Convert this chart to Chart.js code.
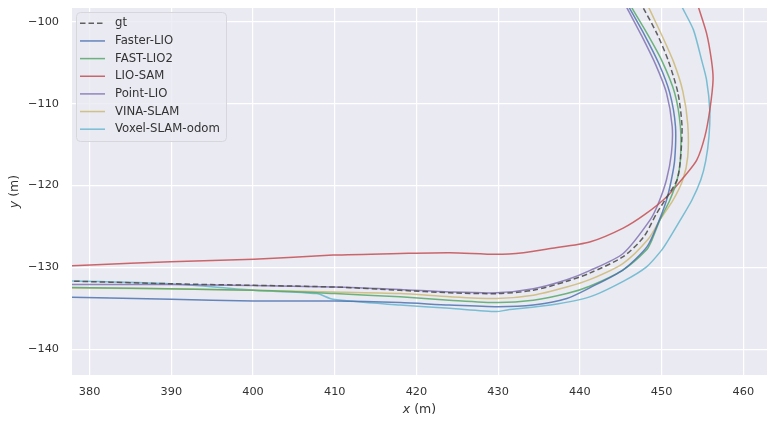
<!DOCTYPE html>
<html>
<head>
<meta charset="utf-8">
<script src="https://cdn.jsdelivr.net/npm/chart.js@4.4.1/dist/chart.umd.min.js"></script>
<style>
    html, body { margin: 0; padding: 0; background: #fff; }
    #wrap { width: 775px; height: 423px; }
</style>
</head>
<body>
<div id="wrap"><canvas id="trajChart" width="775" height="423"></canvas></div>
<script>
// tick labels
const xTicks = [380, 390, 400, 410, 420, 430, 440, 450, 460];
const yTicks = [-140, -130, -120, -110, -100];

// trajectories (m)
const gtX = [375, 390, 410, 418, 424, 430, 434.3, 438.4, 441.2, 445.3, 447.8, 449.4, 450.6, 451.9, 452.3, 452.5, 452.0, 450.8, 449.4, 447.8, 447.0];
const gtY = [-131.6, -132.0, -132.4, -132.8, -133.1, -133.2, -132.8, -131.7, -130.7, -128.7, -126.3, -123.4, -121.5, -119.3, -116.9, -112.8, -108.7, -104.7, -101.4, -98.4, -97.0];

const fasterLioX = [375, 390, 400, 410, 418, 424, 430, 434.3, 438.4, 441.2, 445.3, 448.2, 449.4, 450.6, 451.2, 451.6, 451.7, 451.0, 449.7, 447.9, 446.0, 445.4];
const fasterLioY = [-133.6, -133.9, -134.1, -134.1, -134.3, -134.6, -134.8, -134.6, -133.8, -132.5, -130.3, -127.5, -125.0, -121.8, -119.3, -116.9, -112.8, -108.7, -105.2, -101.6, -98.2, -97.0];

const fastLio2X = [375, 400, 410, 418, 424, 430, 434.3, 438.4, 441.2, 445.3, 448.2, 448.8, 449.8, 451.0, 451.9, 452.3, 452.3, 451.6, 450.0, 448.2, 446.3, 445.7];
const fastLio2Y = [-132.4, -132.8, -133.2, -133.6, -134.0, -134.3, -134.0, -133.2, -132.3, -130.3, -127.8, -126.7, -124.2, -121.8, -119.3, -116.9, -112.8, -108.7, -104.7, -101.4, -98.2, -97.0];

const lioSamX = [375, 380.1, 389.9, 400.1, 409.8, 418, 424.1, 429.8, 433.1, 436.4, 441.2, 445.3, 448.0, 450.6, 452.7, 454.3, 455.3, 455.9, 456.3, 456.1, 455.5, 454.5, 454.1];
const lioSamY = [-129.9, -129.7, -129.3, -129.0, -128.5, -128.3, -128.2, -128.4, -128.2, -127.7, -126.9, -125.2, -123.5, -121.4, -119.0, -116.9, -114.0, -110.8, -107.1, -104.7, -101.4, -98.2, -97.0];

const pointLioX = [375, 389.9, 409.8, 418, 424.1, 429.8, 434.3, 438.4, 441.2, 445.3, 448.6, 449.6, 450.6, 451.2, 451.3, 450.6, 449.3, 447.6, 445.7, 445.1];
const pointLioY = [-132.1, -132.1, -132.4, -132.7, -133.0, -133.1, -132.6, -131.5, -130.4, -128.3, -124.2, -122.2, -119.3, -116.1, -112.8, -108.7, -105.3, -101.8, -98.2, -97.0];

const vinaSlamX = [375, 389.9, 409.8, 418, 424.1, 429.8, 434.3, 438.4, 441.2, 445.3, 448.4, 449.8, 451.4, 452.6, 453.2, 453.2, 452.6, 451.5, 450.0, 448.4, 447.9];
const vinaSlamY = [-132.5, -132.6, -133.0, -133.2, -133.6, -133.8, -133.4, -132.4, -131.5, -129.5, -126.5, -124.2, -121.8, -119.3, -116.5, -112.5, -108.5, -105.0, -101.6, -98.2, -97.0];

const voxelSlamX = [375, 389.9, 400.1, 407.8, 409.8, 418, 424.1, 429.8, 431.1, 436.4, 441.2, 445.3, 448.2, 450.0, 450.8, 452.3, 453.7, 454.8, 455.4, 455.8, 455.9, 455.5, 454.9, 453.9, 452.5, 452.0];
const voxelSlamY = [-131.6, -132.0, -132.8, -133.2, -133.9, -134.6, -135.0, -135.4, -135.2, -134.6, -133.6, -131.7, -129.9, -127.9, -126.7, -124.2, -121.8, -119.3, -117.0, -114.0, -110.8, -107.1, -104.7, -101.0, -98.2, -97.0];

function pts(xs, ys) {
    return xs.map((x, i) => ({ x: x, y: ys[i] }));
}

function line(label, xs, ys, color, dash) {
    return {
        label: label,
        data: pts(xs, ys),
        showLine: true,
        borderColor: color,
        backgroundColor: color,
        borderWidth: 1.5,
        borderDash: dash || [],
        pointRadius: 0,
        tension: 0.25,
        fill: false
    };
}

const datasets = [
    line('gt', gtX, gtY, 'rgba(80, 80, 80, 0.9)', [5.5, 3]),
    line('Faster-LIO', fasterLioX, fasterLioY, 'rgba(76, 114, 176, 0.85)'),
    line('FAST-LIO2', fastLio2X, fastLio2Y, 'rgba(85, 168, 104, 0.85)'),
    line('LIO-SAM', lioSamX, lioSamY, 'rgba(196, 78, 82, 0.85)'),
    line('Point-LIO', pointLioX, pointLioY, 'rgba(129, 114, 179, 0.85)'),
    line('VINA-SLAM', vinaSlamX, vinaSlamY, 'rgba(204, 185, 116, 0.85)'),
    line('Voxel-SLAM-odom', voxelSlamX, voxelSlamY, 'rgba(100, 181, 205, 0.85)')
];

const FONT = "'DejaVu Sans', sans-serif";
const TEXT = '#333333';

// seaborn-like grey panel
const panelBg = {
    id: 'panelBg',
    beforeDraw(chart) {
        const a = chart.chartArea;
        const ctx = chart.ctx;
        ctx.save();
        ctx.fillStyle = '#EAEAF2';
        ctx.fillRect(a.left, a.top, a.right - a.left, a.bottom - a.top);
        ctx.restore();
    }
};

// legend box in upper left, drawn by hand
const legendBox = {
    id: 'legendBox',
    afterDraw(chart) {
        const ctx = chart.ctx;
        const x0 = 76.5, y0 = 12.5, w = 150, h = 129;
        ctx.save();
        ctx.beginPath();
        ctx.roundRect(x0, y0, w, h, 4);
        ctx.fillStyle = 'rgba(234, 234, 242, 0.8)';
        ctx.fill();
        ctx.strokeStyle = '#d6d6dc';
        ctx.lineWidth = 1;
        ctx.stroke();
        ctx.font = '11.7px ' + FONT;
        ctx.textBaseline = 'middle';
        chart.data.datasets.forEach((ds, i) => {
            const y = 23.3 + i * 17.65;
            ctx.beginPath();
            ctx.setLineDash(ds.borderDash);
            ctx.strokeStyle = ds.borderColor;
            ctx.lineWidth = 1.5;
            ctx.moveTo(80, y);
            ctx.lineTo(105, y);
            ctx.stroke();
            ctx.setLineDash([]);
            ctx.fillStyle = TEXT;
            ctx.fillText(ds.label, 115, y);
        });
        ctx.restore();
    }
};

// axis titles with italic variable
const axisTitles = {
    id: 'axisTitles',
    afterDraw(chart) {
        const ctx = chart.ctx;
        const a = chart.chartArea;
        ctx.save();
        ctx.fillStyle = TEXT;
        ctx.textBaseline = 'middle';
        ctx.textAlign = 'left';
        const drawTitle = (v, cx, cy) => {
            ctx.font = 'italic 12.5px ' + FONT;
            const w1 = ctx.measureText(v).width;
            ctx.font = '12.5px ' + FONT;
            const w2 = ctx.measureText(' (m)').width;
            const start = cx - (w1 + w2) / 2;
            ctx.font = 'italic 12.5px ' + FONT;
            ctx.fillText(v, start, cy);
            ctx.font = '12.5px ' + FONT;
            ctx.fillText(' (m)', start + w1, cy);
        };
        drawTitle('x', (a.left + a.right) / 2, 410);
        ctx.translate(15, (a.top + a.bottom) / 2);
        ctx.rotate(-Math.PI / 2);
        drawTitle('y', 0, 0);
        ctx.restore();
    }
};

new Chart(document.getElementById('trajChart'), {
    type: 'scatter',
    data: { datasets: datasets },
    options: {
        responsive: false,
        animation: false,
        layout: { padding: { left: 0, top: 8, right: 8, bottom: 0 } },
        plugins: {
            legend: { display: false },
            tooltip: { enabled: false }
        },
        scales: {
            x: {
                type: 'linear',
                min: 377.85,
                max: 462.9,
                afterFit: s => { s.height = 48; },
                afterBuildTicks: s => { s.ticks = xTicks.map(v => ({ value: v })); },
                border: { display: false },
                grid: { color: '#ffffff', lineWidth: 1.2, drawTicks: true, tickLength: 10, tickColor: 'rgba(0,0,0,0)' },
                ticks: { color: TEXT, font: { family: FONT, size: 11.3 }, padding: 0, includeBounds: false }
            },
            y: {
                type: 'linear',
                min: -143.14,
                max: -98.33,
                afterFit: s => { s.width = 72; },
                afterBuildTicks: s => { s.ticks = yTicks.map(v => ({ value: v })); },
                border: { display: false },
                grid: { color: '#ffffff', lineWidth: 1.2, drawTicks: true, tickLength: 13, tickColor: 'rgba(0,0,0,0)' },
                ticks: {
                    color: TEXT,
                    font: { family: FONT, size: 11.3 },
                    padding: 0,
                    includeBounds: false,
                    callback: v => String(v).replace('-', '\u2212')
                }
            }
        }
    },
    plugins: [panelBg, legendBox, axisTitles]
});
</script>
</body>
</html>
